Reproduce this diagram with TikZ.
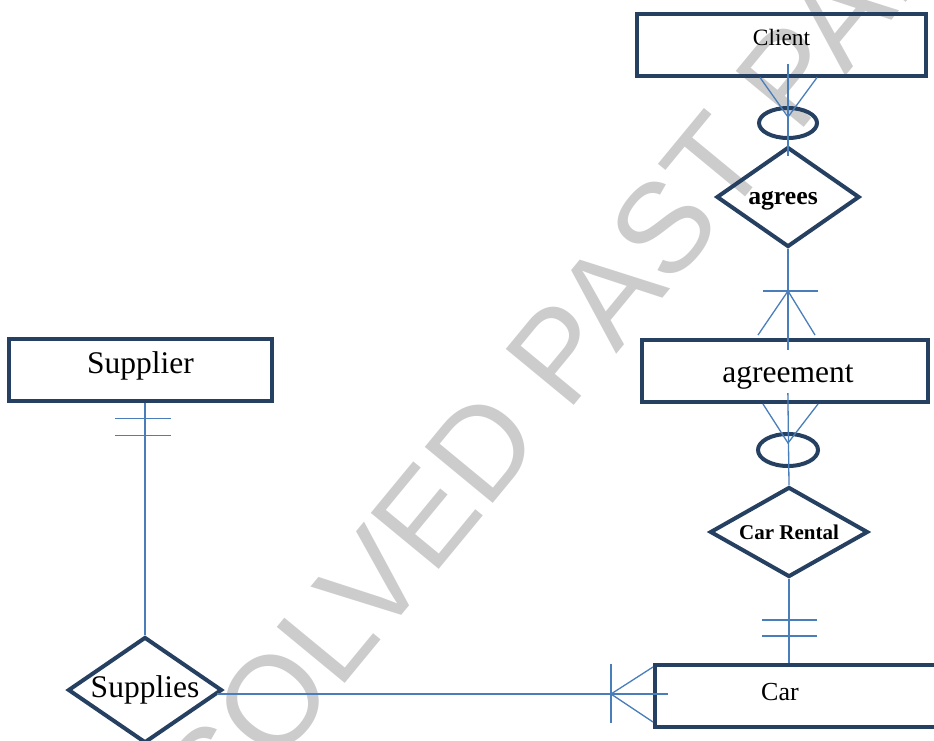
\documentclass[tikz,border=0pt]{standalone}
\usepackage{fontspec}
\setmainfont{Liberation Serif}
\newfontfamily\wmfont{Liberation Sans}
\usepackage{tikz}
\usetikzlibrary{shapes.geometric, calc}
\definecolor{erdnavy}{RGB}{38,64,97}
\definecolor{erdblue}{RGB}{74,126,187}
\tikzstyle{entity} = [rectangle, minimum height=62pt, inner sep=0pt, draw=erdnavy, line width=4pt]
\tikzstyle{relation} = [diamond, inner sep=0pt, draw=erdnavy, line width=4pt]
\tikzstyle{optional} = [ellipse, minimum width=58pt, minimum height=30pt, inner sep=0pt, draw=erdnavy, line width=4pt]
\tikzstyle{link} = [draw=erdblue, line width=1.3pt]
\tikzstyle{big} = [font=\fontsize{31.5}{36}\selectfont]
\tikzstyle{watermark} = [inner sep=0pt, text=black!20, font=\wmfont\fontsize{128}{128}\selectfont]

\begin{document}
\begin{tikzpicture}[x=1pt, y=1pt]
	\useasboundingbox (0,0) rectangle (934,-740);
	\clip (0,0) rectangle (934,-740);
	\node (wm) [watermark, rotate=50.5, anchor=base west] at (221,-834) {SOLVED PAST PAPERS};
	
	\node (client) [entity, minimum width=289pt, label={[font=\fontsize{23.4}{28}\selectfont, yshift=7pt]center:Client}] at (781.5,-44.5) {};
	\node (opt1) [optional, below of=client, node distance=78.5pt, xshift=6.5pt] {};
	\node (agrees) [relation, minimum width=143pt, minimum height=100pt, below of=opt1, node distance=74pt, label={[font=\fontsize{25.7}{30}\selectfont\bfseries, xshift=-5pt, yshift=-4pt]center:agrees}] {};
	\node (agreement) [entity, minimum width=286pt, below of=agrees, node distance=174pt, xshift=-3pt, label={[big, xshift=3pt, yshift=-6pt]center:agreement}] {};
	\node (opt2) [optional, minimum width=60pt, minimum height=32pt, below of=agreement, node distance=79pt, xshift=3pt] {};
	\node (carrental) [relation, minimum width=158pt, minimum height=90pt, below of=opt2, node distance=82pt, xshift=1pt, label={[font=\fontsize{21}{25}\selectfont\bfseries]center:Car Rental}] {};
	\node (car) [entity, minimum width=300pt, below of=carrental, node distance=164pt, xshift=16pt, label={[font=\fontsize{26}{30}\selectfont, xshift=-25pt, yshift=4pt]center:Car}] {};
	
	\node (supplier) [entity, minimum width=263pt, label={[big, yshift=4pt]center:Supplier}] at (140.5,-369.5) {};
	\node (supplies) [relation, minimum width=154pt, minimum height=106pt, below of=supplier, node distance=320.5pt, xshift=4.5pt, label={[big]center:Supplies}] {};
	
	% Client -- agrees
	\coordinate (c1) at (client.south -| opt1);
	\draw [link, shorten <=-14pt, shorten >=-11pt](c1) -- (agrees.north);
	\draw [link]($(c1)+(-28,0)$) -- ($(opt1.center)+(0,6)$) -- ($(c1)+(29,0)$);
	% agrees -- agreement
	\coordinate (a1) at (agrees.south |- agreement.north);
	\draw [link, shorten >=-12pt](agrees.south) -- (a1);
	\draw [link]($(a1)+(-25,47)$) -- ++(55,0);
	\draw [link]($(a1)+(-30,3)$) -- ($(a1)+(0,47)$) -- ($(a1)+(27,3)$);
	% agreement -- Car Rental
	\coordinate (a2) at (agreement.south -| opt2);
	\draw [link, shorten <=-11pt](a2) -- (carrental.north);
	\draw [link]($(a2)+(-25,0)$) -- ($(opt2.center)+(0,7)$) -- ($(a2)+(30,0)$);
	% Car Rental -- Car
	\coordinate (r1) at (carrental.south |- car.north);
	\draw [link](carrental.south) -- (r1);
	\draw [link]($(r1)+(-27,43)$) -- ++(55,0);
	\draw [link]($(r1)+(-27,27)$) -- ++(55,0);
	% Supplier -- Supplies
	\coordinate (s1) at (supplier.south -| supplies.north);
	\draw [link](s1) -- (supplies.north);
	\draw [link]($(s1)+(-30,-16)$) -- ++(56,0);
	\draw [link]($(s1)+(-30,-33)$) -- ++(56,0);
	% Supplies -- Car
	\coordinate (s2) at ($(supplies.east)+(-7,-4)$);
	\coordinate (c2) at (car.west |- s2);
	\draw [link, shorten >=-15pt](s2) -- (c2);
	\draw [link]($(c2)+(-42,30)$) -- ++(0,-59);
	\draw [link]($(c2)+(0,27)$) -- ($(c2)+(-42,0)$) -- ($(c2)+(0,-28)$);
\end{tikzpicture}
\end{document}
